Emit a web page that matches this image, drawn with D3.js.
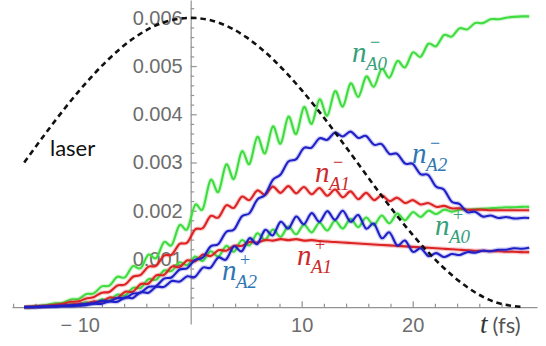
<!DOCTYPE html>
<html>
<head>
<meta charset="utf-8">
<script src="https://cdn.jsdelivr.net/npm/d3@7"></script>
<style>
  body { margin: 0; background: #fff; }
  svg { display: block; }
</style>
</head>
<body>
<div id="chart"></div>
<script>
// sample times (fs), one every half oscillation period
const times = [
  -15, -14.3, -13.6, -12.9, -12.2, -11.5, -10.8, -10.1, -9.4, -8.7,
  -8, -7.3, -6.6, -5.9, -5.2, -4.5, -3.8, -3.1, -2.4, -1.7,
  -1, -0.3, 0.4, 1.1, 1.8, 2.5, 3.2, 3.9, 4.6, 5.3,
  6, 6.7, 7.4, 8.1, 8.8, 9.5, 10.2, 10.9, 11.6, 12.3,
  13, 13.7, 14.4, 15.1, 15.8, 16.5, 17.2, 17.9, 18.6, 19.3,
  20, 20.7, 21.4, 22.1, 22.8, 23.5, 24.2, 24.9, 25.6, 26.3,
  27, 27.7, 28.4, 29.1, 29.8, 30.5
];

const nA0minus = [
  0, .00001, .00003, .00005, .00008, .00009, .00016, .00017, .00027, .00029,
  .00043, .00045, .00063, .00062, .00085, .00081, .00109, .00102, .00135, .00129,
  .0017, .00162, .00212, .00204, .00264, .00239, .00296, .00266, .00323, .00297,
  .00353, .00319, .00375, .00339, .00395, .00359, .00415, .0038, .00431, .00397,
  .00448, .00416, .00464, .00436, .00478, .00457, .00494, .00476, .0051, .00497,
  .00528, .00519, .00546, .00541, .00564, .00561, .00578, .00576, .00589, .00589,
  .00597, .00597, .006, .00602, .00603, .00603
];
const nA0plus = [
  0, 0, .00001, .00002, .00003, .00004, .00006, .00005, .0001, .00008,
  .00016, .00014, .00026, .00024, .0004, .0004, .00058, .00057, .00076, .00075,
  .00093, .00087, .00105, .00096, .00116, .00105, .00127, .00115, .00139, .00128,
  .00153, .00139, .00161, .00146, .00167, .00151, .00171, .00155, .00175, .00159,
  .00179, .00163, .00183, .00166, .00186, .0017, .0019, .00174, .00194, .0018,
  .00197, .00187, .002, .00193, .00202, .00198, .00202, .00202, .00203, .00204,
  .00205, .00206, .00207, .00207, .00208, .00208
];
const nA1minus = [
  0, .00001, .00002, .00003, .00005, .00007, .00011, .00012, .00018, .00021,
  .0003, .00032, .00045, .00047, .00063, .00067, .00084, .00086, .00107, .00109,
  .00131, .00134, .00161, .00164, .00189, .00186, .00211, .00206, .00229, .00222,
  .00242, .00233, .0025, .00237, .00251, .00236, .00249, .00234, .00247, .00231,
  .00244, .00228, .0024, .00224, .00237, .00222, .00232, .0022, .00227, .00216,
  .00222, .00213, .00216, .00208, .0021, .00205, .00205, .00202, .00202, .00202,
  .00201, .00201, .00201, .00201, .00201, .00201
];
const nA1plus = [
  0, 0, .00001, .00002, .00003, .00004, .00005, .00007, .00007, .00012,
  .00011, .0002, .00019, .00032, .00032, .00048, .00049, .00066, .00067, .00084,
  .00083, .00097, .00095, .00109, .00106, .00118, .00117, .00127, .00127, .00135,
  .00134, .00139, .00138, .00141, .00139, .00141, .00138, .00139, .00137, .00136,
  .00135, .00134, .00133, .00132, .00131, .0013, .00129, .00128, .00127, .00126,
  .00125, .00124, .00123, .00122, .00121, .0012, .00119, .00118, .00117, .00117,
  .00116, .00116, .00115, .00115, .00114, .00114
];
const nA2minus = [
  0, 0, .00001, .00001, .00002, .00003, .00004, .00005, .00007, .00008,
  .00013, .00012, .00019, .00019, .00028, .0003, .00042, .00044, .00059, .00062,
  .00078, .00081, .00098, .00103, .00126, .00131, .00156, .00161, .00188, .00195,
  .00223, .00233, .00264, .00275, .00302, .00307, .0033, .00331, .0035, .00347,
  .00362, .00354, .00364, .00351, .00355, .00337, .00338, .00318, .00318, .00298,
  .00297, .00276, .00274, .0025, .00244, .00219, .00214, .00197, .00198, .00188,
  .0019, .00185, .00187, .00184, .00185, .00185
];
const nA2plus = [
  0, 0, 0, .00001, .00001, .00002, .00002, .00003, .00004, .00007,
  .00007, .00012, .00011, .0002, .00019, .00031, .0003, .00042, .00042, .00054,
  .00053, .00064, .00063, .00082, .00082, .00103, .00099, .00126, .00116, .00143,
  .00131, .0016, .00149, .00177, .00163, .00188, .00172, .00195, .00177, .00199,
  .00181, .002, .00177, .00191, .00163, .00173, .00143, .00155, .00128, .00138,
  .00115, .00122, .00106, .00112, .00104, .0011, .00108, .00114, .00113, .00117,
  .00116, .00119, .00119, .00122, .00121, .00123
];

// laser envelope (dashed)
const laserT = [-15, -12.5, -10, -7.5, -5, -2.5, 0, 2.5, 5, 7.5, 10, 12.5, 15, 17.5, 20, 22.5, 25, 27.5, 30];
const laserV = [.003, .00378, .0045, .00512, .0056, .0059, .006, .0059, .0056, .00512, .0045, .00378, .003, .00222, .0015, .00088, .0004, .0001, 0];

const yTicks = [0.001, 0.002, 0.003, 0.004, 0.005, 0.006];
const yTickLabels = ["0.001", "0.002", "0.003", "0.004", "0.005", "0.006"];
const xTicks = [-10, 10, 20];
const xTickLabels = ["\u2212 10", "10", "20"];

const width = 546, height = 346;

const svg = d3.select("#chart").append("svg")
    .attr("width", width)
    .attr("height", height);

const x = d3.scaleLinear().domain([-16.1, 31.2]).range([12, 537]);
const y = d3.scaleLinear().domain([-0.00035, 0.00637]).range([324, 0]);

const axisColor = "#939393";
const tickText = "#6d6d6d";

// --- axes ---
const minorX = d3.range(-16, 31, 2).filter(t => t % 10 !== 0);
const minorY = d3.range(1, 32).map(i => +(i * 0.0002).toFixed(4)).filter((v, i) => (i + 1) % 5 !== 0);

const xg = svg.append("g").attr("transform", `translate(0,${y(0)})`);
xg.append("g")
    .call(d3.axisBottom(x).tickValues(minorX).tickSizeInner(-3.5).tickSizeOuter(0).tickFormat(""))
    .call(g => g.select(".domain").remove());
xg.append("g")
    .call(d3.axisBottom(x).tickValues(xTicks).tickSizeInner(-6).tickSizeOuter(0).tickPadding(11)
        .tickFormat((d, i) => xTickLabels[i]));

const yg = svg.append("g").attr("transform", `translate(${x(0)},0)`);
yg.append("g")
    .call(d3.axisLeft(y).tickValues(minorY).tickSizeInner(-3.5).tickSizeOuter(0).tickFormat(""))
    .call(g => g.select(".domain").remove());
yg.append("g")
    .call(d3.axisLeft(y).tickValues(yTicks).tickSizeInner(-6).tickSizeOuter(0).tickPadding(8)
        .tickFormat((d, i) => yTickLabels[i]));

svg.selectAll(".domain, .tick line").attr("stroke", axisColor).attr("stroke-width", 1.2);
svg.selectAll(".tick text")
    .attr("fill", tickText)
    .style("font-family", "'Liberation Sans', Arial, sans-serif")
    .style("font-size", "20px");

// --- curves ---
const series = [
  { values: nA0plus,  color: "#3fdc3f" },
  { values: nA0minus, color: "#3fdc3f" },
  { values: nA1plus,  color: "#dd2323" },
  { values: nA1minus, color: "#dd2323" },
  { values: nA2plus,  color: "#2020c8" },
  { values: nA2minus, color: "#2020c8" }
];

const line = d3.line()
    .x((d, i) => x(times[i]))
    .y(d => y(d))
    .curve(d3.curveNatural);

const curves = svg.append("g");
series.forEach(s => {
  curves.append("path")
      .attr("d", line(s.values))
      .attr("fill", "none")
      .attr("stroke", s.color)
      .attr("stroke-opacity", 0.22)
      .attr("stroke-width", 4.5);
  curves.append("path")
      .attr("d", line(s.values))
      .attr("fill", "none")
      .attr("stroke", s.color)
      .attr("stroke-width", 2.1);
});

// laser, dashed black
const laserLine = d3.line()
    .x((d, i) => x(laserT[i]))
    .y(d => y(d))
    .curve(d3.curveNatural);

svg.append("path")
    .attr("d", laserLine(laserV))
    .attr("fill", "none")
    .attr("stroke", "#111")
    .attr("stroke-width", 2.6)
    .attr("stroke-dasharray", "5.5,4");

// --- labels: n with stacked sub/superscript, one text each ---
const colA0 = "#35a07a", colA1 = "#cc2a2a", colA2 = "#2f76b4";
const labels = [
  { sub: "A0", sup: "\u2212", color: colA0, t: 14.53, v: 0.00508 },
  { sub: "A2", sup: "\u2212", color: colA2, t: 19.94, v: 0.00299 },
  { sub: "A1", sup: "\u2212", color: colA1, t: 11.2,  v: 0.00259 },
  { sub: "A0", sup: "+",      color: colA0, t: 22.01, v: 0.0015 },
  { sub: "A1", sup: "+",      color: colA1, t: 9.57,  v: 0.00087 },
  { sub: "A2", sup: "+",      color: colA2, t: 2.82,  v: 0.00056 }
];

const serif = "'Liberation Serif', 'DejaVu Serif', serif";
const lab = svg.append("g").selectAll("text").data(labels).join("text")
    .attr("transform", d => `translate(${x(d.t)},${y(d.v)})`)
    .attr("fill", d => d.color)
    .style("font-family", serif);

lab.append("tspan")
    .attr("x", 0).attr("y", 0)
    .style("font-size", "29px").style("font-style", "italic")
    .text("n");
lab.append("tspan")
    .attr("x", 14).attr("y", 8)
    .style("font-size", "19px").style("font-style", "italic")
    .text(d => d.sub);
lab.append("tspan")
    .attr("x", 18).attr("y", -14)
    .style("font-size", "18px")
    .text(d => d.sup);

// "laser" tag
svg.append("text")
    .attr("x", x(-12.68)).attr("y", y(0.00313))
    .style("font-family", "Lato, 'Open Sans', sans-serif")
    .style("font-size", "22px")
    .attr("fill", "#111")
    .text("laser");

// axis title  t (fs)
const xt = svg.append("text")
    .attr("x", 480).attr("y", 333)
    .attr("fill", "#333");
xt.append("tspan")
    .style("font-family", serif).style("font-style", "italic").style("font-size", "27px")
    .text("t");
xt.append("tspan")
    .attr("dx", 5)
    .style("font-family", "Lato, 'Open Sans', sans-serif").style("font-size", "22px")
    .attr("fill", "#555")
    .text("(fs)");
</script>
</body>
</html>
